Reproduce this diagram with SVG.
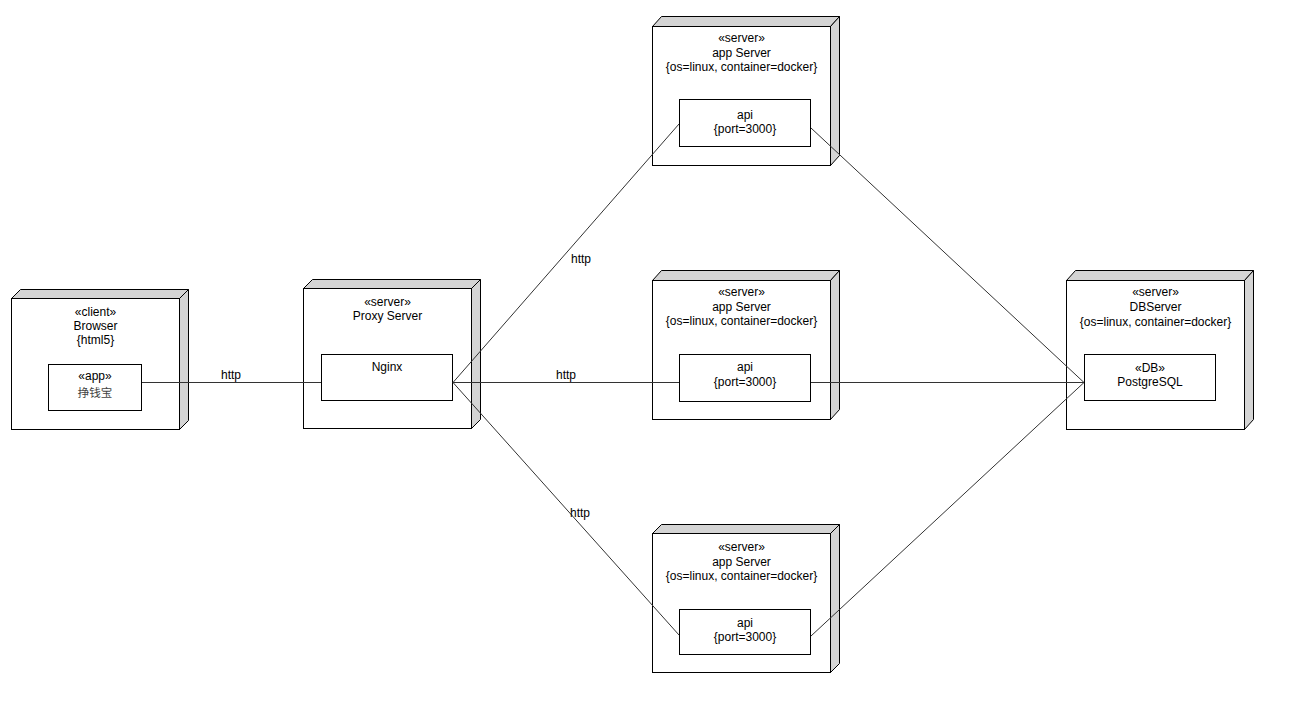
<svg xmlns="http://www.w3.org/2000/svg" width="1304" height="703" viewBox="0 0 1304 703">
<style>
.front{fill:#ffffff;stroke:#000;stroke-width:1}
.side{fill:#d4d4d4;stroke:#000;stroke-width:1}
.inner{fill:#ffffff;stroke:#000;stroke-width:1}
text{font-family:"Liberation Sans",Arial,"Noto Sans CJK SC",sans-serif;font-size:12px;fill:#000;text-anchor:middle}
.cjk{font-family:"Noto Sans CJK SC","Liberation Sans",sans-serif;font-size:11.5px;fill:#444}
.conn{stroke:#333;stroke-width:1;fill:none}
</style>
<rect width="1304" height="703" fill="#fff"/>
<g id="browser">
<polygon class="side" points="11.5,298.5 20.5,289.5 188.5,289.5 179.5,298.5"/>
<polygon class="side" points="179.5,298.5 188.5,289.5 188.5,420.5 179.5,429.5"/>
<rect class="front" x="11.5" y="298.5" width="168" height="131"/>
<text x="95.5" y="316">«client»</text>
<text x="95.5" y="330">Browser</text>
<text x="95.5" y="344">{html5}</text>
<g id="app">
<rect class="inner" x="48.5" y="364.5" width="93" height="46"/>
<text x="95" y="380">«app»</text>
<text class="cjk" x="95" y="397">挣钱宝</text>
</g>
</g>
<g id="proxy">
<polygon class="side" points="303.5,288.5 312.5,279.5 480.5,279.5 471.5,288.5"/>
<polygon class="side" points="471.5,288.5 480.5,279.5 480.5,419.5 471.5,428.5"/>
<rect class="front" x="303.5" y="288.5" width="168" height="140"/>
<text x="387.5" y="306">«server»</text>
<text x="387.5" y="320">Proxy Server</text>
<g id="nginx">
<rect class="inner" x="321.5" y="354.5" width="131" height="46"/>
<text x="387" y="371">Nginx</text>
</g>
</g>
<g id="appserver1">
<polygon class="side" points="652.5,26.5 661.5,16.5 839.5,16.5 830.5,26.5"/>
<polygon class="side" points="830.5,26.5 839.5,16.5 839.5,155.5 830.5,165.5"/>
<rect class="front" x="652.5" y="26.5" width="178" height="139"/>
<text x="741.5" y="42">«server»</text>
<text x="741.5" y="57">app Server</text>
<text x="741.5" y="71">{os=linux, container=docker}</text>
<g id="api1">
<rect class="inner" x="679.5" y="99.5" width="131" height="47"/>
<text x="745" y="119">api</text>
<text x="745" y="133">{port=3000}</text>
</g>
</g>
<g id="appserver2">
<polygon class="side" points="652.5,280.5 661.5,270.5 839.5,270.5 830.5,280.5"/>
<polygon class="side" points="830.5,280.5 839.5,270.5 839.5,409.5 830.5,419.5"/>
<rect class="front" x="652.5" y="280.5" width="178" height="139"/>
<text x="741.5" y="296">«server»</text>
<text x="741.5" y="311">app Server</text>
<text x="741.5" y="325">{os=linux, container=docker}</text>
<g id="api2">
<rect class="inner" x="679.5" y="354.5" width="131" height="47"/>
<text x="745" y="371">api</text>
<text x="745" y="386">{port=3000}</text>
</g>
</g>
<g id="appserver3">
<polygon class="side" points="652.5,533.5 661.5,524.5 839.5,524.5 830.5,533.5"/>
<polygon class="side" points="830.5,533.5 839.5,524.5 839.5,663.5 830.5,672.5"/>
<rect class="front" x="652.5" y="533.5" width="178" height="139"/>
<text x="741.5" y="551">«server»</text>
<text x="741.5" y="566">app Server</text>
<text x="741.5" y="580">{os=linux, container=docker}</text>
<g id="api3">
<rect class="inner" x="679.5" y="609.5" width="131" height="45"/>
<text x="745" y="627">api</text>
<text x="745" y="641">{port=3000}</text>
</g>
</g>
<g id="dbserver">
<polygon class="side" points="1066.5,280.5 1075.5,270.5 1253.5,270.5 1244.5,280.5"/>
<polygon class="side" points="1244.5,280.5 1253.5,270.5 1253.5,419.5 1244.5,429.5"/>
<rect class="front" x="1066.5" y="280.5" width="178" height="149"/>
<text x="1155.5" y="296">«server»</text>
<text x="1155.5" y="311">DBServer</text>
<text x="1155.5" y="326">{os=linux, container=docker}</text>
<g id="postgres">
<rect class="inner" x="1084.5" y="354.5" width="131" height="46"/>
<text x="1150" y="372">«DB»</text>
<text x="1150" y="386">PostgreSQL</text>
</g>
</g>
<g id="connectors">
<line class="conn" x1="142" y1="382.5" x2="321" y2="382.5"/>
<line class="conn" x1="453" y1="382.5" x2="679" y2="124"/>
<line class="conn" x1="453" y1="382.5" x2="679" y2="382.5"/>
<line class="conn" x1="453" y1="382.5" x2="679" y2="635"/>
<line class="conn" x1="811" y1="128" x2="1084" y2="382.5"/>
<line class="conn" x1="811" y1="382.5" x2="1084" y2="382.5"/>
<line class="conn" x1="811" y1="636" x2="1084" y2="382.5"/>
<text x="231" y="379">http</text>
<text x="581" y="263">http</text>
<text x="566" y="379">http</text>
<text x="580" y="517">http</text>
</g>
</svg>
